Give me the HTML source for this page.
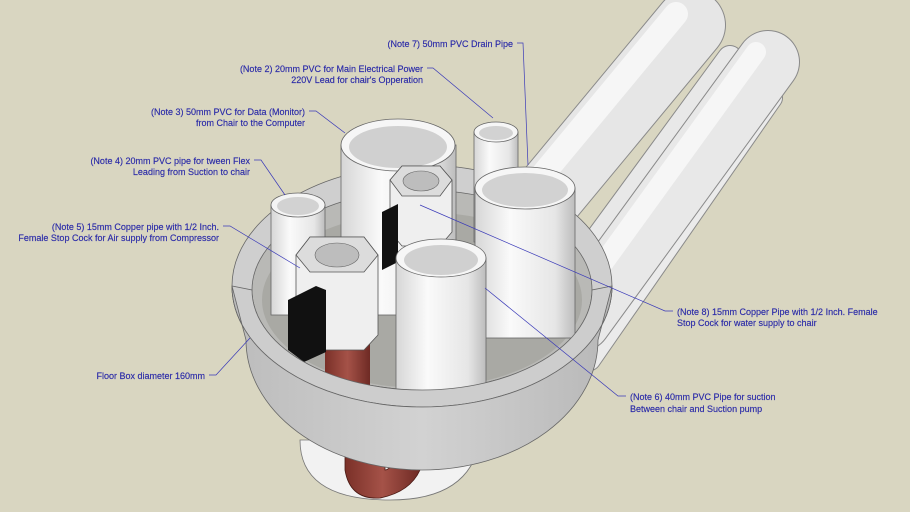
<!DOCTYPE html>
<html><head><meta charset="utf-8"><style>
html,body{margin:0;padding:0;background:#d9d6c1;}
svg{display:block}
text{font-family:"Liberation Sans",sans-serif;font-size:9px;fill:#2a2aa8;stroke:#2a2aa8;stroke-width:0.15;}
</style></head><body>
<svg width="910" height="512" viewBox="0 0 910 512" xmlns="http://www.w3.org/2000/svg">
<defs>
<linearGradient id="cyl" x1="0" x2="1" y1="0" y2="0">
<stop offset="0" stop-color="#d6d6d6"/><stop offset="0.35" stop-color="#fafafa"/><stop offset="0.8" stop-color="#e6e6e6"/><stop offset="1" stop-color="#bdbdbd"/></linearGradient>
<linearGradient id="band" x1="0" x2="1"><stop offset="0" stop-color="#bcbcbc"/><stop offset="0.5" stop-color="#d2d2d2"/><stop offset="1" stop-color="#b8b8b8"/></linearGradient>
<linearGradient id="cop" x1="0" x2="1"><stop offset="0" stop-color="#7a3028"/><stop offset="0.5" stop-color="#a55248"/><stop offset="1" stop-color="#6e2a24"/></linearGradient>
</defs>
<!-- long pipes -->
<g stroke-linecap="round">
<line x1="772" y1="98" x2="590" y2="360" stroke="#8a8a8a" stroke-width="22"/>
<line x1="772" y1="98" x2="590" y2="360" stroke="#ebebeb" stroke-width="20"/>
<line x1="730" y1="58" x2="560" y2="290" stroke="#8a8a8a" stroke-width="26"/>
<line x1="730" y1="58" x2="560" y2="290" stroke="#e8e8e8" stroke-width="24"/>
<line x1="690" y1="25" x2="520" y2="230" stroke="#8a8a8a" stroke-width="72"/>
<line x1="690" y1="25" x2="520" y2="230" stroke="#e6e6e6" stroke-width="70"/>
<line x1="676" y1="14" x2="505" y2="220" stroke="#f6f6f6" stroke-width="24"/>
<line x1="768" y1="62" x2="580" y2="320" stroke="#8a8a8a" stroke-width="64"/>
<line x1="768" y1="62" x2="580" y2="320" stroke="#e8e8e8" stroke-width="62"/>
<line x1="756" y1="52" x2="568" y2="312" stroke="#f6f6f6" stroke-width="20"/>
</g>
<!-- bottom pipes under ring -->
<path d="M300,440 Q300,500 390,500 Q470,500 480,440 Z" fill="#f2f2f2" stroke="#777" stroke-width="0.8"/>
<path d="M345,380 L345,470 Q350,500 380,498 Q410,492 420,470 L400,455 Q390,470 385,470 L385,380 Z" fill="url(#cop)" stroke="#4a1a14" stroke-width="0.8"/>
<!-- ring top face -->
<ellipse cx="422" cy="286" rx="190" ry="121" fill="#cfcfcf" stroke="#666" stroke-width="0.8"/>
<ellipse cx="422" cy="290" rx="170" ry="100" fill="#b9b9b6" stroke="#666" stroke-width="0.8"/>
<ellipse cx="422" cy="300" rx="160" ry="88" fill="#a9a9a4"/>
<!-- left 20mm pipe -->
<rect x="271" y="205" width="54" height="110" fill="url(#cyl)" stroke="#666" stroke-width="0.8"/>
<ellipse cx="298" cy="205" rx="27" ry="12" fill="#f4f4f4" stroke="#666" stroke-width="0.8"/>
<ellipse cx="298" cy="206" rx="21" ry="9" fill="#d2d2d2"/>
<!-- big 50mm pipe -->
<rect x="341" y="145" width="115" height="170" fill="url(#cyl)" stroke="#666" stroke-width="0.8"/>
<ellipse cx="398" cy="145" rx="57" ry="26" fill="#f6f6f6" stroke="#666" stroke-width="0.8"/>
<ellipse cx="398" cy="147" rx="49" ry="21" fill="#d0d0d0"/>
<!-- small 20mm -->
<rect x="474" y="132" width="44" height="110" fill="url(#cyl)" stroke="#666" stroke-width="0.8"/>
<ellipse cx="496" cy="132" rx="22" ry="10" fill="#f6f6f6" stroke="#666" stroke-width="0.8"/>
<ellipse cx="496" cy="133" rx="17" ry="7" fill="#d2d2d2"/>
<!-- stopcock 1 -->
<polygon points="390,180 402,166 440,166 452,180 452,232 440,246 402,246 390,232" fill="#efefef" stroke="#555" stroke-width="0.8"/>
<polygon points="390,180 402,166 440,166 452,180 440,196 402,196" fill="#dcdcdc" stroke="#555" stroke-width="0.8"/>
<ellipse cx="421" cy="181" rx="18" ry="10" fill="#bdbdbd" stroke="#666" stroke-width="0.6"/>
<polygon points="382,212 398,204 398,262 382,270" fill="#111"/>
<!-- 50mm drain -->
<rect x="475" y="188" width="100" height="150" fill="url(#cyl)" stroke="#666" stroke-width="0.8"/>
<ellipse cx="525" cy="188" rx="50" ry="21" fill="#f6f6f6" stroke="#666" stroke-width="0.8"/>
<ellipse cx="525" cy="190" rx="43" ry="17" fill="#d2d2d2"/>
<!-- copper under stopcock 2 -->
<rect x="325" y="330" width="45" height="60" fill="url(#cop)"/>
<!-- stopcock 2 -->
<polygon points="296,255 310,237 364,237 378,255 378,335 364,350 310,350 296,335" fill="#efefef" stroke="#555" stroke-width="0.8"/>
<polygon points="296,255 310,237 364,237 378,255 364,272 310,272" fill="#dcdcdc" stroke="#555" stroke-width="0.8"/>
<ellipse cx="337" cy="255" rx="22" ry="12" fill="#bdbdbd" stroke="#666" stroke-width="0.6"/>
<polygon points="288,300 316,286 326,290 326,352 304,362 288,350" fill="#111"/>
<!-- 40mm front -->
<rect x="396" y="258" width="90" height="150" fill="url(#cyl)" stroke="#666" stroke-width="0.8"/>
<ellipse cx="441" cy="258" rx="45" ry="19" fill="#f6f6f6" stroke="#666" stroke-width="0.8"/>
<ellipse cx="441" cy="260" rx="37" ry="15" fill="#d0d0d0"/>
<!-- front ring rim + band -->
<path d="M232,286 A190,121 0 0 0 612,286 L592,290 A170,100 0 0 1 252,290 Z" fill="#cdcdcd" stroke="#666" stroke-width="0.8"/>
<path d="M232,286 A190,121 0 0 0 612,286 L598,340 A176,130 0 0 1 246,340 Z" fill="url(#band)" stroke="#666" stroke-width="0.8"/>
<!-- leaders -->
<g stroke="#3a3ab8" stroke-width="0.7" fill="none">
<polyline points="517,43 523,43 528,165"/>
<polyline points="427,68 433,68 493,118"/>
<polyline points="309,111 316,111 345,133"/>
<polyline points="254,160 261,160 285,195"/>
<polyline points="223,226 230,226 300,268"/>
<polyline points="209,375 216,375 250,338"/>
<polyline points="626,396 618,396 485,288"/>
<polyline points="673,311 665,311 420,205"/>
</g>
<!-- labels -->
<text x="513" y="47" text-anchor="end">(Note 7) 50mm PVC Drain Pipe</text>
<text x="423" y="72" text-anchor="end">(Note 2) 20mm PVC for Main Electrical Power</text>
<text x="423" y="83" text-anchor="end">220V Lead for chair's Opperation</text>
<text x="305" y="115" text-anchor="end">(Note 3) 50mm PVC for Data (Monitor)</text>
<text x="305" y="126" text-anchor="end">from Chair to the Computer</text>
<text x="250" y="164" text-anchor="end">(Note 4) 20mm PVC pipe for tween Flex</text>
<text x="250" y="175" text-anchor="end">Leading from Suction to chair</text>
<text x="219" y="230" text-anchor="end">(Note 5) 15mm Copper pipe with 1/2 Inch.</text>
<text x="219" y="241" text-anchor="end">Female Stop Cock for Air supply from Compressor</text>
<text x="205" y="379" text-anchor="end">Floor Box diameter 160mm</text>
<text x="630" y="400">(Note 6) 40mm PVC Pipe for suction</text>
<text x="630" y="412">Between chair and Suction pump</text>
<text x="677" y="315">(Note 8) 15mm Copper Pipe with 1/2 Inch. Female</text>
<text x="677" y="326">Stop Cock for water supply to chair</text>
</svg>
</body></html>
